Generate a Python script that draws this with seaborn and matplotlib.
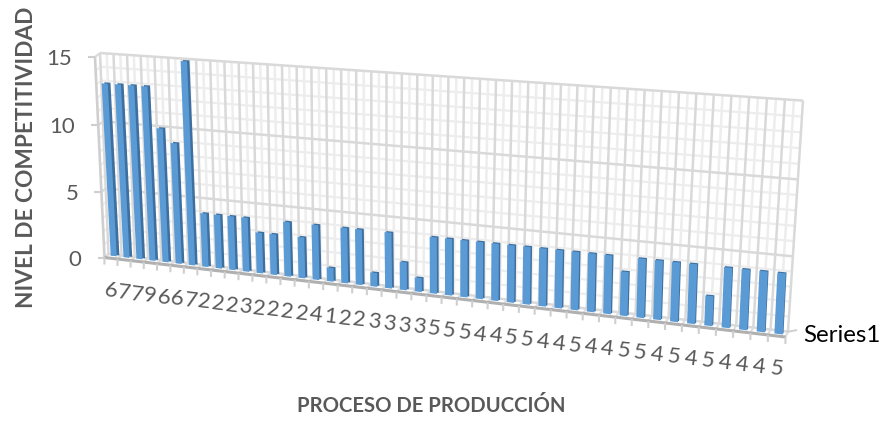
import numpy as np
import pandas as pd
import matplotlib
matplotlib.use("Agg")
import matplotlib.pyplot as plt
from matplotlib.transforms import Transform, Affine2D
import seaborn as sns

# Chart data
process_labels = ["6", "7", "7", "9", "6", "6", "7", "2", "2", "2", "3", "2", "2", "2", "2",
                  "4", "1", "2", "2", "3", "3", "3", "3", "5", "5", "5", "4", "4", "5", "5",
                  "4", "4", "5", "4", "4", "5", "5", "4", "5", "4", "5", "4", "4", "4", "5"]
competitiveness = [13, 13, 13, 13, 10, 9, 15, 4, 4, 4, 4, 3, 3, 4, 3,
                   4, 1, 4, 4, 1, 4, 2, 1, 4, 4, 4, 4, 4, 4, 4,
                   4, 4, 4, 4, 4, 3, 4, 4, 4, 4, 2, 4, 4, 4, 4]
value_ticks = [0, 5, 10, 15]
series_name = "Series1"
y_title = "NIVEL DE COMPETITIVIDAD"
x_title = "PROCESO DE PRODUCCIÓN"

WIDTH, HEIGHT = 884, 421
TEXT_GREY = "#595959"
n = len(competitiveness)
vmax = value_ticks[-1]


class PlaneTransform(Transform):
    """Projective map from (category position, value) to display pixels."""
    input_dims = 2
    output_dims = 2
    is_separable = False
    has_inverse = False

    def __init__(self, src, dst):
        super().__init__()
        rows, rhs = [], []
        for (u, v), (x, y) in zip(src, dst):
            y = HEIGHT - y
            rows.append([u, v, 1, 0, 0, 0, -u * x, -v * x])
            rows.append([0, 0, 0, u, v, 1, -u * y, -v * y])
            rhs += [x, y]
        self.h = np.append(np.linalg.solve(np.array(rows, float), np.array(rhs, float)), 1).reshape(3, 3)

    def transform_non_affine(self, values):
        pts = np.column_stack([values, np.ones(len(values))]) @ self.h.T
        return pts[:, :2] / pts[:, 2:]


box = [(0, 0), (n, 0), (0, vmax), (n, vmax)]
wall = PlaneTransform(box, [(108.5, 254), (788, 331.5), (100, 53), (803, 100.6)])
front = PlaneTransform(box, [(104.5, 257.5), (785.5, 337), (95, 57), (800, 105)])

bar_src = [(0.5, 0), (n - 0.5, 0), (0.5, 13), (n - 0.5, 4)]
bar_face = PlaneTransform(bar_src, [(113.7, 256), (778.6, 334), (104.7, 83.5), (781.6, 273)])
bar_back = PlaneTransform(bar_src, [(116.4, 255), (779.3, 333), (107.4, 82.5), (782.3, 272)])

sns.set_theme(style="white")
plt.rcParams["font.family"] = ["Lato", "DejaVu Sans"]

fig = plt.figure(figsize=(WIDTH / 100, HEIGHT / 100), dpi=100)
ax = fig.add_axes([0, 0, 1, 1])
pixels = Affine2D()


def line(xs, ys, trans, color, lw, z=1):
    ax.plot(xs, ys, color=color, lw=lw, transform=trans, clip_on=False,
            solid_capstyle="butt", zorder=z)


# Back wall: minor grid first, major grid above it
for v in range(vmax + 1):
    if v % 5:
        line([0, n], [v, v], wall, "#EDEDED", 1.6, 1)
for i in range(n):
    line([i + 0.5, i + 0.5], [0, vmax], wall, "#EDEDED", 1.8, 1)
for v in value_ticks:
    line([0, n], [v, v], wall, "#D9D9D9", 1.8, 2)
for i in range(n + 1):
    line([i, i], [0, vmax], wall, "#D9D9D9", 1.8, 2)

# Narrow side wall and floor strip joining the back wall to the front axes
for v in range(vmax + 1):
    a, b = front.transform([(0, v)])[0], wall.transform([(0, v)])[0]
    line([a[0], b[0]], [a[1], b[1]], pixels, "#D9D9D9" if v % 5 == 0 else "#EDEDED", 1.5)
for t in range(n + 1):
    a, b = front.transform([(t, 0)])[0], wall.transform([(t, 0)])[0]
    line([a[0], b[0]], [a[1], b[1]], pixels, "#DDDDDD", 1.5)

# Axis lines and tick marks
line([0, 0], [0, vmax], front, "#CFCFCF", 1.9, 3)
line([0, n], [0, 0], front, "#B0B0B0", 2.2, 3)
for t in range(n + 1):
    a = front.transform([(t, 0)])[0]
    line([a[0], a[0] - 0.1], [a[1], a[1] - 7], pixels, "#CFCFCF", 1.5, 3)
for v in value_ticks:
    a = front.transform([(0, v)])[0]
    line([a[0] - 7, a[0]], [a[1], a[1]], pixels, "#CFCFCF", 1.5, 3)
c = front.transform([(n, 0)])[0]
line([c[0] + 1.5, c[0] + 11.5], [c[1] + 5, c[1] + 7], pixels, "#CFCFCF", 1.4, 3)

# Bars: a dark body set slightly behind, with the lit front face over it
df = pd.DataFrame({"position": np.arange(n) + 0.5, "value": competitiveness})
sns.barplot(data=df, x="position", y="value", native_scale=True, width=0.47, color="#3E6F9E",
            saturation=1, linewidth=0, errorbar=None, ax=ax, zorder=4)
n_back = len(ax.patches)
sns.barplot(data=df, x="position", y="value", native_scale=True, width=0.47, color="#5B9BD5",
            saturation=1, linewidth=0, errorbar=None, ax=ax, zorder=5)
for k, patch in enumerate(ax.patches):
    patch.set_transform(bar_back if k < n_back else bar_face)
    patch.set_clip_on(False)

# Category labels run parallel to the floor edge
label_offset = Affine2D().translate(0, -33)
for i, lab in enumerate(process_labels):
    ax.text(i + 0.5, 0, lab, transform=front + label_offset, ha="center", va="center",
            rotation=-6.6, rotation_mode="anchor", fontsize=16, color=TEXT_GREY)

# Value labels
value_offset = Affine2D().translate(-23, -2)
for v in value_ticks:
    ax.text(0, v, str(v), transform=front + value_offset, ha="right", va="center",
            fontsize=16, color=TEXT_GREY)

fig.text(27 / WIDTH, 1 - 157.5 / HEIGHT, y_title, rotation=90, ha="center", va="center",
         fontsize=16.3, fontweight="bold", color=TEXT_GREY)
fig.text(431.5 / WIDTH, 1 - 406 / HEIGHT, x_title, ha="center", va="center",
         fontsize=14.6, fontweight="bold", color=TEXT_GREY)
fig.text(803 / WIDTH, 1 - 335 / HEIGHT, series_name, ha="left", va="center",
         fontsize=17.3, color="black")

ax.set_xlim(0, n)
ax.set_ylim(0, vmax)
ax.set_axis_off()
fig.savefig("out.png", dpi=100)
